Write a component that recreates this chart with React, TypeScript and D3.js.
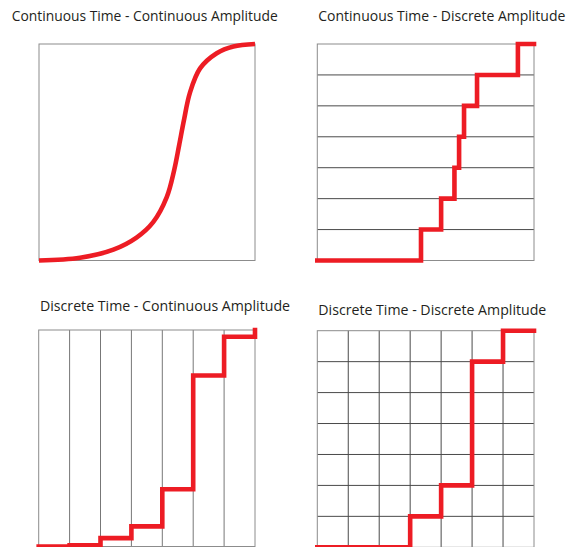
import React from "react";
import * as d3 from "d3";

// ---- Data (time and amplitude in sample/level units, 0..7) ----
const gridSteps = [0, 1, 2, 3, 4, 5, 6, 7];

// Panel 1: continuous curve
const curveTime = [0, 1.33, 2.41, 3.16, 3.7, 4.14, 4.38, 4.54, 4.7, 4.89, 5.22, 5.76, 6.3, 7];
const curveAmp = [0, 0.09, 0.35, 0.74, 1.24, 2.05, 2.92, 3.72, 4.55, 5.42, 6.21, 6.7, 6.92, 7];

// Panel 2: continuous time, quantized amplitude (times at which each new level is reached)
const quantTimes = [0, 3.35, 4.0, 4.43, 4.58, 4.74, 5.16, 6.48, 7];
const quantLevels = [0, 1, 2, 3, 4, 5, 6, 7, 7];

// Panel 3: sampled values (discrete time, continuous amplitude)
const sampleTimes = [0, 1, 2, 3, 4, 5, 6, 7];
const sampleValues = [0, 0.035, 0.27, 0.65, 1.85, 5.53, 6.78, 7];

// Panel 4: sampled and quantized
const sampleLevels = [0, 0, 0, 1, 2, 6, 7, 7];

const titles = [
  "Continuous Time - Continuous Amplitude",
  "Continuous Time - Discrete Amplitude",
  "Discrete Time - Continuous Amplitude",
  "Discrete Time - Discrete Amplitude",
];

const RED = "#ED1C24";
const BORDER = "#8c8c8c";
const GRID = "#4a4a4a";
const TEXT = "#231F20";

type Box = { x0: number; x1: number; y0: number; y1: number };

const boxes: Box[] = [
  { x0: 39, x1: 255, y0: 44, y1: 260.5 },
  { x0: 317.3, x1: 534, y0: 44, y1: 260.5 },
  { x0: 38.7, x1: 255, y0: 330, y1: 546.5 },
  { x0: 317.3, x1: 534, y0: 330.7, y1: 547.3 },
];

const titlePos = [
  { x: 11.7, y: 21, w: 266 },
  { x: 318.3, y: 21, w: 247 },
  { x: 40, y: 311, w: 250 },
  { x: 318.3, y: 315.3, w: 228 },
];

function scales(b: Box) {
  const x = d3.scaleLinear().domain([0, 7]).range([b.x0, b.x1]);
  const y = d3.scaleLinear().domain([0, 7]).range([b.y1, b.y0]);
  return { x, y };
}

function Panel({ idx }: { idx: number }) {
  const b = boxes[idx];
  const { x, y } = scales(b);
  const inner = gridSteps.slice(1, -1);
  const showH = idx === 1 || idx === 3;
  const showV = idx === 2 || idx === 3;

  const line = (curve: d3.CurveFactory) =>
    d3
      .line<[number, number]>()
      .x((d) => x(d[0]))
      .y((d) => y(d[1]))
      .curve(curve);

  let path = "";
  let cap: "butt" | "square" = "square";
  if (idx === 0) {
    const pts: [number, number][] = curveTime.map((t, i) => [t, curveAmp[i]]);
    path = line(d3.curveCatmullRom.alpha(0.5))(pts) || "";
    cap = "butt";
  } else if (idx === 1) {
    const pts: [number, number][] = quantTimes.map((t, i) => [t, quantLevels[i]]);
    path = line(d3.curveStepAfter)(pts) || "";
  } else if (idx === 2) {
    const pts: [number, number][] = sampleTimes.map((t, i) => [t, sampleValues[i]]);
    path = line(d3.curveStepAfter)(pts) || "";
  } else {
    const pts: [number, number][] = sampleTimes.map((t, i) => [t, sampleLevels[i]]);
    path = line(d3.curveStepAfter)(pts) || "";
  }

  const tp = titlePos[idx];
  return (
    <g>
      <text
        x={tp.x}
        y={tp.y}
        textLength={tp.w}
        lengthAdjust="spacingAndGlyphs"
        fontFamily="'Open Sans', 'Noto Sans', sans-serif"
        fontSize={14.5}
        fill={TEXT}
      >
        {titles[idx]}
      </text>
      {showH &&
        inner.map((v) => (
          <line key={"h" + v} x1={b.x0} x2={b.x1} y1={y(v)} y2={y(v)} stroke={GRID} strokeWidth={1} />
        ))}
      {showV &&
        inner.map((v) => (
          <line key={"v" + v} x1={x(v)} x2={x(v)} y1={b.y0} y2={b.y1} stroke={idx === 2 ? "#777" : GRID} strokeWidth={1} />
        ))}
      <rect x={b.x0} y={b.y0} width={b.x1 - b.x0} height={b.y1 - b.y0} fill="none" stroke={BORDER} strokeWidth={1} />
      <path d={path} fill="none" stroke={RED} strokeWidth={4.6} strokeLinecap={cap} strokeLinejoin="miter" />
    </g>
  );
}

export default function App() {
  return (
    <svg
      width={574}
      height={547}
      viewBox="0 0 574 547"
      style={{ position: "absolute", left: 0, top: 0, background: "#fff" }}
    >
      <rect x={0} y={0} width={574} height={547} fill="#fff" />
      {[0, 1, 2, 3].map((i) => (
        <Panel key={i} idx={i} />
      ))}
    </svg>
  );
}
